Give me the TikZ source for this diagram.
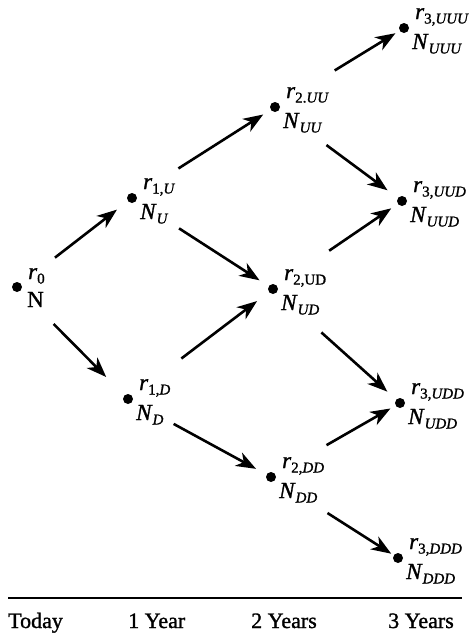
\documentclass[tikz,border=0pt]{standalone}
\usepackage{fontspec}
\setmainfont{Liberation Serif}[FakeBold=1.2]
\usetikzlibrary{arrows.meta,calc}
\newcommand\lsub[1]{\raisebox{-4.5pt}{\fontsize{15}{15}\selectfont #1}}
\tikzset{
  dotmark/.style={circle,fill=black,inner sep=0pt,minimum size=10pt},
  rlab/.style={anchor=base west,inner sep=0pt,font=\fontsize{23}{23}\selectfont},
  nlab/.style={anchor=base west,inner sep=0pt,font=\fontsize{23}{23}\selectfont},
  tlab/.style={anchor=base west,inner sep=0pt,font=\fontsize{22}{22}\selectfont},
  arr/.style={line width=2.6pt,-{Stealth[length=20pt,width=15pt,inset=6pt]}},
}
\begin{document}
\begin{tikzpicture}[x=1pt,y=-1pt]
\path[use as bounding box] (0,0) rectangle (469,635);
% dots
\node[dotmark] (d0) at (17,287) {};
\node[dotmark] (dU) at (132,198) {};
\node[dotmark] (dD) at (128,399) {};
\node[dotmark] (dUU) at (275,107) {};
\node[dotmark] (dUD) at (273,289) {};
\node[dotmark] (dDD) at (271,477) {};
\node[dotmark] (dUUU) at (404,28) {};
\node[dotmark] (dUUD) at (402,201) {};
\node[dotmark] (dUDD) at (400,403) {};
\node[dotmark] (dDDD) at (398,558) {};
% labels
\node[rlab] (r0) at ($(d0)+(11,-8)$) {\textit{r}\lsub{0}};
\node[nlab] (n0) at ($(d0)+(10,20)$) {N};
\node[rlab] (rU) at ($(dU)+(11,-9)$) {\textit{r}\lsub{1,\textit{U}}};
\node[nlab] (nU) at ($(dU)+(8,21)$) {\textit{N}\lsub{\textit{U}}};
\node[rlab] (rD) at ($(dD)+(11,-9)$) {\textit{r}\lsub{1,\textit{D}}};
\node[nlab] (nD) at ($(dD)+(8,21)$) {\textit{N}\lsub{\textit{D}}};
\node[rlab] (rUU) at ($(dUU)+(11,-9)$) {\textit{r}\lsub{2.\textit{UU}}};
\node[nlab] (nUU) at ($(dUU)+(8,21)$) {\textit{N}\lsub{\textit{UU}}};
\node[rlab] (rUD) at ($(dUD)+(11,-9)$) {\textit{r}\lsub{2,UD}};
\node[nlab] (nUD) at ($(dUD)+(8,21)$) {\textit{N}\lsub{\textit{UD}}};
\node[rlab] (rDD) at ($(dDD)+(11,-9)$) {\textit{r}\lsub{2,\textit{DD}}};
\node[nlab] (nDD) at ($(dDD)+(8,21)$) {\textit{N}\lsub{\textit{DD}}};
\node[rlab] (rUUU) at ($(dUUU)+(11,-9)$) {\textit{r}\lsub{3,\textit{UUU}}};
\node[nlab] (nUUU) at ($(dUUU)+(8,21)$) {\textit{N}\lsub{\textit{UUU}}};
\node[rlab] (rUUD) at ($(dUUD)+(11,-9)$) {\textit{r}\lsub{3,\textit{UUD}}};
\node[nlab] (nUUD) at ($(dUUD)+(8,21)$) {\textit{N}\lsub{\textit{UUD}}};
\node[rlab] (rUDD) at ($(dUDD)+(11,-9)$) {\textit{r}\lsub{3,\textit{UDD}}};
\node[nlab] (nUDD) at ($(dUDD)+(8,21)$) {\textit{N}\lsub{\textit{UDD}}};
\node[rlab] (rDDD) at ($(dDDD)+(11,-9)$) {\textit{r}\lsub{3,\textit{DDD}}};
\node[nlab] (nDDD) at ($(dDDD)+(8,21)$) {\textit{N}\lsub{\textit{DDD}}};
% arrows
\draw[arr,shorten <=48pt,shorten >=19pt] (d0.center) -- (dU.center);
\draw[arr,shorten <=52pt,shorten >=31pt] (d0.center) -- (dD.center);
\draw[arr,shorten <=55pt,shorten >=14pt] (dU.center) -- (dUU.center);
\draw[arr,shorten <=56pt,shorten >=16pt] (dU.center) -- (dUD.center);
\draw[arr,shorten <=67pt,shorten >=20pt] (dD.center) -- (dUD.center);
\draw[arr,shorten <=52pt,shorten >=17pt] (dD.center) -- (dDD.center);
\draw[arr,shorten <=70pt,shorten >=10pt] (dUU.center) -- (dUUU.center);
\draw[arr,shorten <=64pt,shorten >=18pt] (dUU.center) -- (dUUD.center);
\draw[arr,shorten <=68pt,shorten >=13pt] (dUD.center) -- (dUUD.center);
\draw[arr,shorten <=65pt,shorten >=17pt] (dUD.center) -- (dUDD.center);
\draw[arr,shorten <=64pt,shorten >=11pt] (dDD.center) -- (dUDD.center);
\draw[arr,shorten <=67pt,shorten >=8pt] (dDD.center) -- (dDDD.center);
% axis
\coordinate (a1) at (8,598);
\coordinate (a2) at (462,598);
\draw[line width=1.4pt] (a1) -- (a2);
\node[tlab] (t0) at (8,628) {Today};
\node[tlab] (t1) at (128,628) {1 Year};
\node[tlab] (t2) at (251,628) {2 Years};
\node[tlab] (t3) at (388,628) {3 Years};
\end{tikzpicture}
\end{document}
